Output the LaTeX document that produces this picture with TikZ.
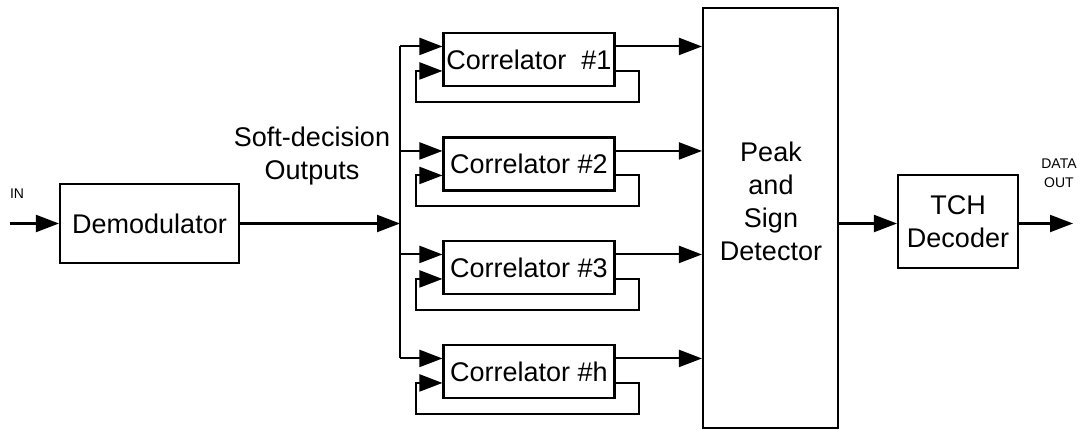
\documentclass[tikz,border=0pt]{standalone}
\usepackage{fontspec}
\setmainfont{Liberation Sans}
\usetikzlibrary{arrows.meta,calc}
\tikzset{
  wire/.style={line width=2.1pt},
  arr/.style={wire,-{Triangle[length=23pt,width=17pt]}},
  blk/.style={draw,line width=2.1pt,inner sep=0pt,font=\fontsize{27}{33}\selectfont,align=center},
  corr/.style={blk,minimum width=171pt,minimum height=53pt},
  lbl/.style={inner sep=0pt,font=\fontsize{27}{33}\selectfont,align=center},
  tiny/.style={inner sep=0pt,font=\fontsize{14}{19}\selectfont,align=center}
}
\begin{document}
\begin{tikzpicture}[x=1pt,y=-1pt]
\useasboundingbox (0,0) rectangle (1090,430);

% blocks
\node[blk,minimum width=179pt,minimum height=79pt] (demod) at (149.5,223.5) {Demodulator};
\node[corr] (c1) at (529,59.5) {Correlator~ \#1};
\node[corr] (c2) at (529,164) {Correlator \#2};
\node[corr] (c3) at (529,267.5) {Correlator \#3};
\node[corr] (ch) at (529,371.5) {Correlator \#h};
\node[blk,minimum width=135pt,minimum height=420pt] (peak) at (770.5,218) {};
\node[lbl] (peaktxt) at (771,201) {Peak\\and\\Sign\\Detector};
\node[blk,minimum width=120pt,minimum height=93pt] (tch) at (958,221.5) {TCH\\Decoder};

% labels
\node[tiny] (inlbl) at (17,194) {IN};
\node[tiny] (outlbl) at (1059,173) {DATA\\OUT};
\node[lbl] (soft) at (312,156) {Soft-decision\\Outputs};

% free ends and the distribution bus
\coordinate (src) at (10,223.5);
\coordinate (dst) at (1073,223.5);
\coordinate (bus) at (400,223.5);

\draw[arr] (src) -- (demod.west |- src);
\draw[arr] (demod.east |- bus) -- (bus);
\draw[arr] (peak.east |- dst) -- (tch.west |- dst);
\draw[arr] (tch.east |- dst) -- (dst);

% correlator branches: input, feedback loop, output
\foreach \c in {c1,c2,c3,ch}{
  \coordinate (\c in) at ([yshift=-14.5pt]\c.north west);
  \coordinate (\c fbo) at ([yshift=-39pt]\c.north east);
  \coordinate (\c fbi) at ([yshift=-39pt]\c.north west);
  \draw[arr] (bus |- \c in) -- (\c in);
  \draw[arr] (\c.east |- \c in) -- (peak.west |- \c in);
  \draw[arr] (\c fbo) -- ++(23,0) -- ++(0,31) -- ++(-223,0) |- (\c fbi);
}
\draw[wire] (bus |- c1in) -- (bus |- chin);
\end{tikzpicture}
\end{document}
